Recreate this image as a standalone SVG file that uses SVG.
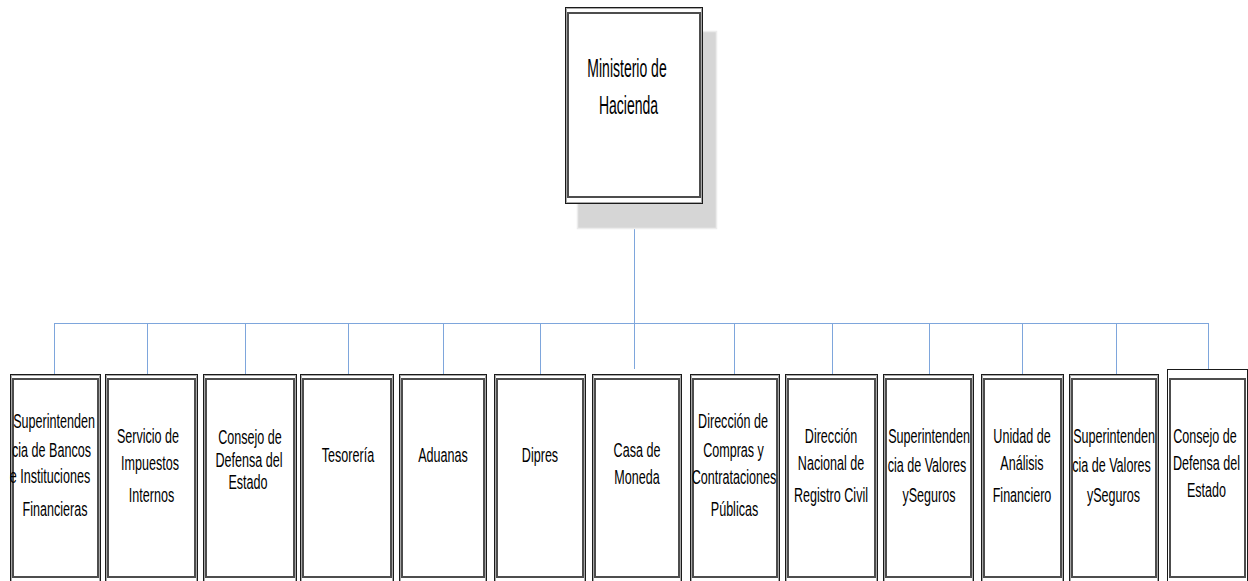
<svg xmlns="http://www.w3.org/2000/svg" width="1248" height="581" viewBox="0 0 1248 581">
<style>
text{font-family:"Liberation Sans",Arial,sans-serif;fill:#000;text-anchor:middle}
.t{font-size:19.5px}
.h{font-size:25px}
.o{fill:#fff;stroke:#1a1a1a;stroke-width:1}
.g{fill:none;stroke:#a8a8a8;stroke-width:1}
.i{fill:none;stroke:#4d4d4d;stroke-width:2}
.c{fill:none;stroke:#7ea6dc;stroke-width:1}
</style>
<rect width="1248" height="581" fill="#fff"/>
<g id="connectors">
<path class="c" d="M634.5 203V369M54.5 323.5H1208.5M54.5 323V374M147.5 323V374M245.5 323V374M348.5 323V374M443.5 323V374M540.5 323V374M734.5 323V374M832.5 323V374M929.5 323V374M1022.5 323V374M1116.5 323V374M1208.5 323V369"/>
</g>
<g id="ministerio">
<rect x="577.5" y="31.5" width="139" height="197" fill="#d6d6d6" stroke="#ececec" stroke-width="1.5"/>
<rect class="o" x="565.5" y="7.5" width="137" height="196"/>
<rect class="g" x="566.5" y="8.5" width="135" height="194"/>
<rect class="i" x="568" y="13" width="132" height="184"/>
<text class="h" transform="translate(627,77) scale(0.56,1)">Ministerio de</text>
<text class="h" transform="translate(628.5,114) scale(0.56,1)">Hacienda</text>
</g>
<g id="n1">
<rect class="o" x="10.5" y="374.5" width="90" height="210"/><rect class="g" x="11.5" y="375.5" width="88" height="210"/><rect class="i" x="13" y="379" width="85" height="198"/>
<text class="t" transform="translate(54,428) scale(0.645,1)">Superintenden</text>
<text class="t" transform="translate(51.5,456.5) scale(0.645,1)">cia de Bancos</text>
<text class="t" transform="translate(50,483) scale(0.645,1)">e Instituciones</text>
<text class="t" transform="translate(55,516) scale(0.645,1)">Financieras</text>
</g>
<g id="n2">
<rect class="o" x="105.5" y="374.5" width="92" height="210"/><rect class="g" x="106.5" y="375.5" width="90" height="210"/><rect class="i" x="108" y="379" width="87" height="198"/>
<text class="t" transform="translate(148,443) scale(0.645,1)">Servicio de</text>
<text class="t" transform="translate(150,470) scale(0.645,1)">Impuestos</text>
<text class="t" transform="translate(151.5,501.5) scale(0.645,1)">Internos</text>
</g>
<g id="n3">
<rect class="o" x="203.5" y="374.5" width="93" height="210"/><rect class="g" x="204.5" y="375.5" width="91" height="210"/><rect class="i" x="206" y="379" width="88" height="198"/>
<text class="t" transform="translate(250,444) scale(0.645,1)">Consejo de</text>
<text class="t" transform="translate(249,467) scale(0.645,1)">Defensa del</text>
<text class="t" transform="translate(248,489) scale(0.645,1)">Estado</text>
</g>
<g id="n4">
<rect class="o" x="300.5" y="374.5" width="93" height="210"/><rect class="g" x="301.5" y="375.5" width="91" height="210"/><rect class="i" x="303" y="379" width="88" height="198"/>
<text class="t" transform="translate(348,462) scale(0.645,1)">Tesorería</text>
</g>
<g id="n5">
<rect class="o" x="399.5" y="374.5" width="87" height="210"/><rect class="g" x="400.5" y="375.5" width="85" height="210"/><rect class="i" x="402" y="379" width="82" height="198"/>
<text class="t" transform="translate(443,462) scale(0.645,1)">Aduanas</text>
</g>
<g id="n6">
<rect class="o" x="494.5" y="374.5" width="91" height="210"/><rect class="g" x="495.5" y="375.5" width="89" height="210"/><rect class="i" x="497" y="379" width="86" height="198"/>
<text class="t" transform="translate(540,462) scale(0.645,1)">Dipres</text>
</g>
<g id="n7">
<rect class="o" x="592.5" y="374.5" width="89" height="210"/><rect class="g" x="593.5" y="375.5" width="87" height="210"/><rect class="i" x="595" y="379" width="84" height="198"/>
<text class="t" transform="translate(637,456.5) scale(0.645,1)">Casa de</text>
<text class="t" transform="translate(637,484) scale(0.645,1)">Moneda</text>
</g>
<g id="n8">
<rect class="o" x="690.5" y="374.5" width="89" height="210"/><rect class="g" x="691.5" y="375.5" width="87" height="210"/><rect class="i" x="693" y="379" width="84" height="198"/>
<text class="t" transform="translate(733,428) scale(0.645,1)">Dirección de</text>
<text class="t" transform="translate(733.5,456.5) scale(0.645,1)">Compras y</text>
<text class="t" transform="translate(734,484) scale(0.645,1)">Contrataciones</text>
<text class="t" transform="translate(734.5,516) scale(0.645,1)">Públicas</text>
</g>
<g id="n9">
<rect class="o" x="785.5" y="374.5" width="92" height="210"/><rect class="g" x="786.5" y="375.5" width="90" height="210"/><rect class="i" x="788" y="379" width="87" height="198"/>
<text class="t" transform="translate(831,443) scale(0.645,1)">Dirección</text>
<text class="t" transform="translate(831,470) scale(0.645,1)">Nacional de</text>
<text class="t" transform="translate(831,501.5) scale(0.645,1)">Registro Civil</text>
</g>
<g id="n10">
<rect class="o" x="883.5" y="374.5" width="90" height="210"/><rect class="g" x="884.5" y="375.5" width="88" height="210"/><rect class="i" x="886" y="379" width="85" height="198"/>
<text class="t" transform="translate(929,443) scale(0.645,1)">Superintenden</text>
<text class="t" transform="translate(927,471.5) scale(0.645,1)">cia de Valores</text>
<text class="t" transform="translate(929,501.5) scale(0.645,1)">ySeguros</text>
</g>
<g id="n11">
<rect class="o" x="981.5" y="374.5" width="82" height="210"/><rect class="g" x="982.5" y="375.5" width="80" height="210"/><rect class="i" x="984" y="379" width="77" height="198"/>
<text class="t" transform="translate(1022,443) scale(0.645,1)">Unidad de</text>
<text class="t" transform="translate(1022,470) scale(0.645,1)">Análisis</text>
<text class="t" transform="translate(1022,501.5) scale(0.645,1)">Financiero</text>
</g>
<g id="n12">
<rect class="o" x="1069.5" y="374.5" width="89" height="210"/><rect class="g" x="1070.5" y="375.5" width="87" height="210"/><rect class="i" x="1072" y="379" width="84" height="198"/>
<text class="t" transform="translate(1114,443) scale(0.645,1)">Superintenden</text>
<text class="t" transform="translate(1111.5,471.5) scale(0.645,1)">cia de Valores</text>
<text class="t" transform="translate(1113.5,501.5) scale(0.645,1)">ySeguros</text>
</g>
<g id="n13">
<rect class="o" x="1167.5" y="369.5" width="80" height="215"/><rect class="i" x="1170" y="379" width="75" height="198"/>
<text class="t" transform="translate(1205,443) scale(0.645,1)">Consejo de</text>
<text class="t" transform="translate(1206.5,470) scale(0.645,1)">Defensa del</text>
<text class="t" transform="translate(1206.5,496.5) scale(0.645,1)">Estado</text>
</g>
</svg>
